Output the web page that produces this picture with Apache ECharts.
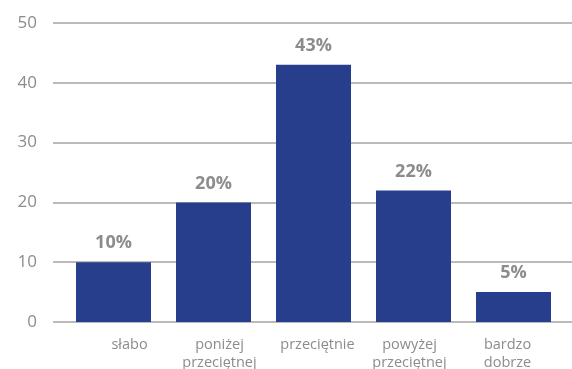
<!DOCTYPE html>
<html>
<head>
<meta charset="utf-8">
<script src="https://cdn.jsdelivr.net/npm/echarts@6/dist/echarts.min.js"></script>
<style>
html,body{margin:0;padding:0;background:#fff;}
#chart{width:572px;height:369px;}
</style>
</head>
<body>
<div id="chart"></div>
<script>
// Rating categories and share of responses (%)
const categories = ['słabo', 'poniżej\nprzeciętnej', 'przeciętnie', 'powyżej\nprzeciętnej', 'bardzo\ndobrze'];
const shares = [10, 20, 43, 22, 5];
const yTicks = [0, 10, 20, 30, 40, 50];
// small horizontal nudges for the category captions
const captionShift = [32, 12, 8, -8, -12];

const GRAY = '#8c8c8c';
const FONT = '"Open Sans", "Noto Sans", sans-serif';

const chart = echarts.init(document.getElementById('chart'), null, {renderer: 'canvas'});
chart.setOption({
  animation: false,
  grid: [
    {left: 53, right: 0, top: 23, bottom: 47, outerBoundsMode: 'none'},
    {left: 63.5, right: 8.5, top: 23, bottom: 47, outerBoundsMode: 'none'}
  ],
  xAxis: [
    {gridIndex: 0, type: 'value', show: false, min: 0, max: 1},
    {
      gridIndex: 1, type: 'category',
      data: categories.map((c, i) => ({
        value: c,
        textStyle: {padding: captionShift[i] >= 0 ? [0, 0, 0, captionShift[i]] : [0, -captionShift[i], 0, 0]}
      })),
      axisLine: {show: false}, axisTick: {show: false},
      axisLabel: {color: GRAY, fontFamily: FONT, fontSize: 14.5, lineHeight: 18, margin: 14, interval: 0}
    }
  ],
  yAxis: [
    {
      gridIndex: 0, type: 'value', min: yTicks[0], max: yTicks[yTicks.length - 1], interval: 10,
      axisLine: {show: false}, axisTick: {show: false},
      axisLabel: {color: GRAY, fontFamily: FONT, fontSize: 17, margin: 16},
      splitLine: {lineStyle: {color: '#a3a3a3', width: 1.5}}
    },
    {
      gridIndex: 1, type: 'value', min: yTicks[0], max: yTicks[yTicks.length - 1], interval: 10,
      show: false, splitLine: {show: false}
    }
  ],
  series: [{
    type: 'bar',
    xAxisIndex: 1, yAxisIndex: 1,
    data: shares,
    barWidth: 75,
    itemStyle: {color: '#263e8b'},
    label: {
      show: true, position: 'top', distance: 10,
      formatter: p => p.value + '%',
      color: GRAY, fontFamily: FONT, fontWeight: 'bold', fontSize: 18
    }
  }]
});
</script>
</body>
</html>
